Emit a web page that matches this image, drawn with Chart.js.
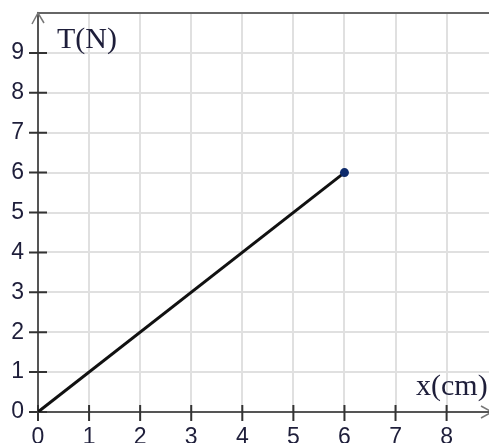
<!DOCTYPE html>
<html lang="en">
<head>
    <meta charset="UTF-8">
    <title>T(N) - x(cm)</title>
    <script src="https://cdn.jsdelivr.net/npm/chart.js"></script>
    <style>
        body { margin: 0; background: #fff; }
        canvas { display: block; }
    </style>
</head>
<body>
    <canvas id="forceChart" width="489" height="443"></canvas>

    <script>
        // Dữ liệu đồ thị
        const xValues = [0, 6];      // x (cm)
        const tValues = [0, 6];      // T (N)
        const xLabel = 'x(cm)';
        const yLabel = 'T(N)';
        const xMax = 8.83;
        const yMax = 10;

        const axisColor = '#555';
        const gridColor = '#e0e0e0';
        const textColor = '#1e1e3a';

        // Vẽ vạch chia, mũi tên và nhãn trục
        const axisDecor = {
            id: 'axisDecor',
            beforeDatasetsDraw(chart) {
                const { ctx, scales } = chart;
                const x0 = scales.x.getPixelForValue(0);
                const y0 = scales.y.getPixelForValue(0);
                ctx.save();
                ctx.strokeStyle = '#333';
                ctx.lineWidth = 2;
                ctx.beginPath();
                scales.y.ticks.forEach(t => {
                    if (t.value >= yMax) return;
                    const y = scales.y.getPixelForValue(t.value);
                    ctx.moveTo(x0 - 9, y);
                    ctx.lineTo(x0 + 9, y);
                });
                scales.x.ticks.forEach(t => {
                    const x = scales.x.getPixelForValue(t.value);
                    ctx.moveTo(x, y0 - 7);
                    ctx.lineTo(x, y0 + 9);
                });
                ctx.stroke();
                ctx.restore();
            },
            afterDraw(chart) {
                const { ctx, chartArea, scales } = chart;
                const x0 = scales.x.getPixelForValue(0);
                const y0 = scales.y.getPixelForValue(0);
                ctx.save();
                // mũi tên trục
                ctx.strokeStyle = '#777';
                ctx.lineWidth = 1.5;
                ctx.beginPath();
                ctx.moveTo(x0 - 6, chartArea.top + 11);
                ctx.lineTo(x0, chartArea.top);
                ctx.lineTo(x0 + 6, chartArea.top + 10);
                ctx.moveTo(chartArea.right - 8, y0 - 6);
                ctx.lineTo(chartArea.right + 3, y0);
                ctx.lineTo(chartArea.right - 8, y0 + 6);
                ctx.stroke();
                // nhãn trục
                ctx.fillStyle = textColor;
                ctx.font = '30px "Liberation Serif", "Times New Roman", serif';
                ctx.textBaseline = 'alphabetic';
                ctx.textAlign = 'left';
                ctx.fillText(yLabel, x0 + 19, scales.y.getPixelForValue(9) - 5);
                ctx.fillText(xLabel, chartArea.right - 73, scales.y.getPixelForValue(1) + 23);
                ctx.restore();
            }
        };

        const ctx = document.getElementById('forceChart').getContext('2d');
        const forceChart = new Chart(ctx, {
            type: 'scatter',
            data: {
                datasets: [{
                    data: xValues.map((x, i) => ({ x: x, y: tValues[i] })),
                    showLine: true,
                    borderColor: '#111',
                    borderWidth: 3,
                    pointRadius: c => (c.dataIndex === xValues.length - 1 ? 4.5 : 0),
                    pointBackgroundColor: '#0d2a6b',
                    pointBorderColor: '#0d2a6b',
                    pointBorderWidth: 0
                }]
            },
            options: {
                responsive: false,
                animation: false,
                devicePixelRatio: 1,
                layout: { autoPadding: false, padding: { top: 13, right: 0, left: 0, bottom: 0 } },
                plugins: {
                    legend: { display: false },
                    tooltip: { enabled: false }
                },
                scales: {
                    x: {
                        type: 'linear',
                        min: 0,
                        max: xMax,
                        afterFit: s => { s.height = 31; s.paddingRight = 0; s.paddingLeft = 0; },
                        border: { color: axisColor, width: 2 },
                        grid: {
                            color: gridColor,
                            lineWidth: 2,
                            tickLength: 9,
                            tickColor: 'transparent'
                        },
                        ticks: {
                            stepSize: 1,
                            includeBounds: false,
                            maxRotation: 0,
                            padding: 3,
                            color: textColor,
                            font: { family: '"Liberation Sans", Arial, sans-serif', size: 23 }
                        }
                    },
                    y: {
                        min: 0,
                        max: yMax,
                        afterFit: s => { s.width = 38; s.paddingTop = 0; s.paddingBottom = 0; },
                        border: { color: axisColor, width: 2 },
                        grid: {
                            color: c => (c.tick && c.tick.value === yMax ? '#666' : gridColor),
                            lineWidth: 2,
                            tickLength: 9,
                            tickColor: 'transparent'
                        },
                        ticks: {
                            stepSize: 1,
                            padding: 5,
                            color: textColor,
                            font: { family: '"Liberation Sans", Arial, sans-serif', size: 23 },
                            callback: v => (v === yMax ? '' : v)
                        }
                    }
                }
            },
            plugins: [axisDecor]
        });
    </script>
</body>
</html>
